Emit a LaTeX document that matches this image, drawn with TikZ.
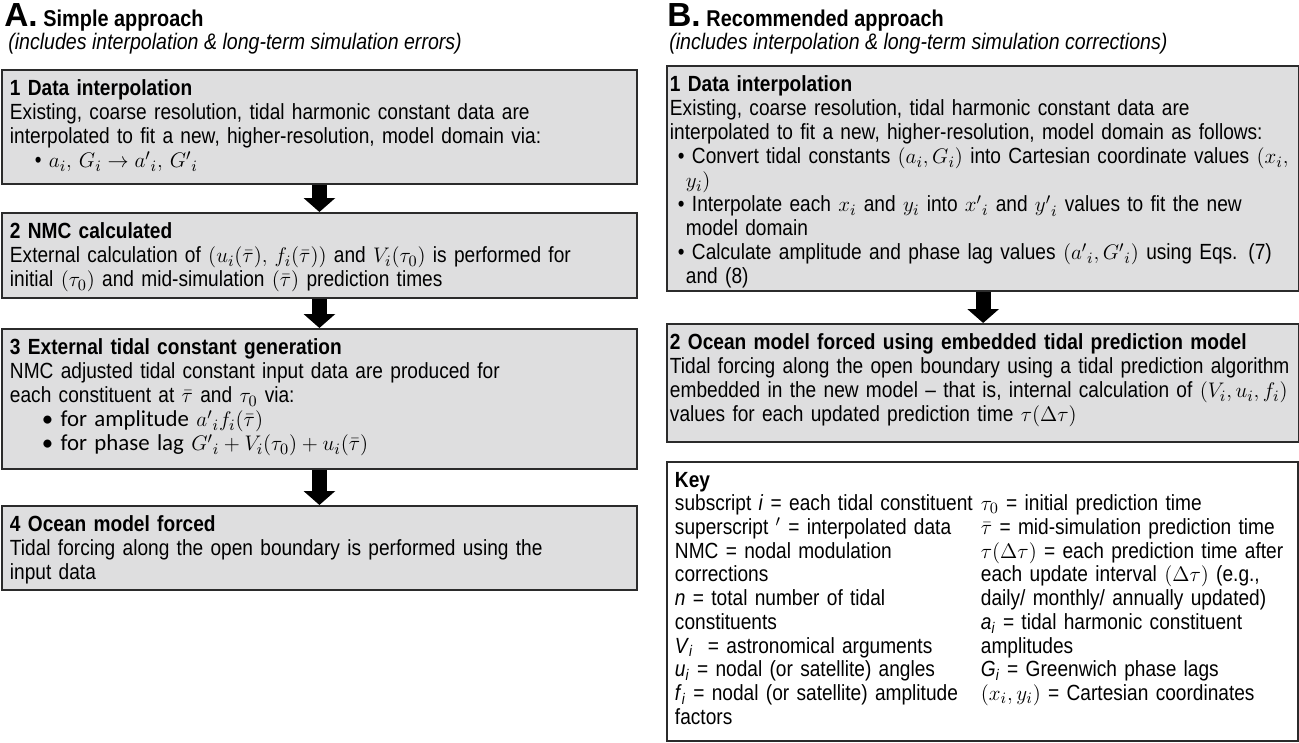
\documentclass[tikz,border=0pt]{standalone}
\usepackage{fontspec}
\usepackage{array}
\setmainfont{Liberation Sans}[FakeStretch=0.87]
\newfontfamily\letterfont{Liberation Sans}
\newfontfamily\calibfont{Carlito}
\usetikzlibrary{arrows.meta,positioning}
\definecolor{boxgray}{HTML}{DEDEDF}
\definecolor{edgegray}{HTML}{2B2B2B}
\newcommand{\bodyfont}{\fontsize{12.5}{13.66}\selectfont}
\newcommand{\keysize}{\fontsize{12.5}{13.5}\selectfont}
\newcommand{\bulletfont}{\calibfont\fontsize{13}{13.66}\selectfont}

\begin{document}
\begin{tikzpicture}[x=0.02cm, y=-0.02cm,
    stage/.style={rectangle, draw=edgegray, line width=1.1pt, fill=boxgray, anchor=north west, align=left, inner xsep=0.16cm, inner ysep=0.2cm, font=\bodyfont},
    keybox/.style={stage, fill=white, font=\keysize},
    flow/.style={line width=0.3cm, -{Triangle[length=0.28cm, width=0.62cm]}},
    letter/.style={anchor=base west, inner sep=0pt, font=\letterfont\bfseries\fontsize{19}{21}\selectfont},
    panel/.style={anchor=base west, inner sep=0pt, font=\bfseries\fontsize{13}{15}\selectfont},
    note/.style={anchor=base west, inner sep=0pt, font=\itshape\fontsize{12.8}{14}\selectfont}
]
    \useasboundingbox (0,0) rectangle (1299,743);

    % panel headings
    \node[letter] (lettA) at (4,27) {A.};
    \node[panel, right=0.1cm of lettA.base east, anchor=base west] (headA) {Simple approach};
    \node[note] (subA) at (8,50) {(includes interpolation \& long-term simulation errors)};
    \node[letter] (lettB) at (667,27) {B.};
    \node[panel, right=0.1cm of lettB.base east, anchor=base west] (headB) {Recommended approach};
    \node[note] (subB) at (669,50) {(includes interpolation \& long-term simulation corrections)};

    % A: simple approach
    \node[stage, text width=12.38cm, text depth=1.56cm] (a1) at (1,69) {\textbf{1 Data interpolation}\\
        Existing, coarse resolution, tidal harmonic constant data are\\
        interpolated to fit a new, higher-resolution, model domain via:\\
        \hspace*{0.5cm}• $a_i,\,G_i \rightarrow {a'}_i,\,{G'}_i$};
    \node[stage, text width=12.38cm, text depth=0.98cm] (a2) at (1,212) {\textbf{2 NMC calculated}\\
        External calculation of $(u_i(\bar\tau),\,f_i(\bar\tau))$ and $V_i(\tau_0)$ is performed for\\
        initial $(\tau_0)$ and mid-simulation $(\bar\tau)$ prediction times};
    \node[stage, text width=12.38cm, text depth=2.08cm] (a3) at (1,328) {\textbf{3 External tidal constant generation}\\
        NMC adjusted tidal constant input data are produced for\\
        each constituent at $\bar\tau$ and $\tau_0$ via:\\
        \hspace*{0.64cm}{\bulletfont • for amplitude} ${a'}_i f_i(\bar\tau)$\\
        \hspace*{0.64cm}{\bulletfont • for phase lag} ${G'}_i + V_i(\tau_0) + u_i(\bar\tau)$};
    \node[stage, text width=12.38cm, text depth=0.96cm] (a4) at (1,505) {\textbf{4 Ocean model forced}\\
        Tidal forcing along the open boundary is performed using the\\
        input data};

    \draw[flow] (a1.south) -- (a2.north);
    \draw[flow] (a2.south) -- (a3.north);
    \draw[flow] (a3.south) -- (a4.north);

    % B: recommended approach
    \node[stage, inner xsep=0.06cm, text width=12.53cm, text depth=3.78cm] (b1) at (666,65) {\textbf{1 Data interpolation}\\
        Existing, coarse resolution, tidal harmonic constant data are\\
        interpolated to fit a new, higher-resolution, model domain as follows:\\
        \hspace*{0.16cm}• Convert tidal constants $(a_i, G_i)$ into Cartesian coordinate values $(x_i,$\\
        \hspace*{0.32cm}$y_i)$\\
        \hspace*{0.16cm}• Interpolate each $x_i$ and $y_i$ into ${x'}_i$ and ${y'}_i$ values to fit the new\\
        \hspace*{0.32cm}model domain\\
        \hspace*{0.16cm}• Calculate amplitude and phase lag values $({a'}_i, {G'}_i)$ using Eqs. (7)\\
        \hspace*{0.32cm}and (8)};
    \node[stage, inner xsep=0.06cm, text width=12.53cm, text depth=1.64cm] (b2) at (666,323) {\textbf{2 Ocean model forced using embedded tidal prediction model}\\
        Tidal forcing along the open boundary using a tidal prediction algorithm\\
        embedded in the new model – that is, internal calculation of $(V_i, u_i, f_i)$\\
        values for each updated prediction time $\tau(\Delta\tau)$};

    \draw[flow] (b1.south) -- (b2.north);

    % key
    \node[keybox, text width=12.3cm, text depth=4.88cm] (key) at (666,461) {\textbf{Key}\\
        \begin{tabular}[t]{@{}w{l}{6.12cm}@{}l@{}}
        subscript \textit{i} = each tidal constituent & $\tau_0$ = initial prediction time\\
        superscript $'$ = interpolated data & $\bar\tau$ = mid-simulation prediction time\\
        NMC = nodal modulation & $\tau(\Delta\tau)$ = each prediction time after\\
        corrections & each update interval $(\Delta\tau)$ (e.g.,\\
        \textit{n} = total number of tidal & daily/ monthly/ annually updated)\\
        constituents & \textit{a}\textsubscript{\textit{i}} = tidal harmonic constituent\\
        \textit{V}\textsubscript{\textit{i}}\ \ = astronomical arguments & amplitudes\\
        \textit{u}\textsubscript{\textit{i}} = nodal (or satellite) angles & \textit{G}\textsubscript{\textit{i}} = Greenwich phase lags\\
        \textit{f}\textsubscript{\textit{i}} = nodal (or satellite) amplitude & $(x_i, y_i)$ = Cartesian coordinates\\
        factors &
        \end{tabular}};
\end{tikzpicture}
\end{document}
